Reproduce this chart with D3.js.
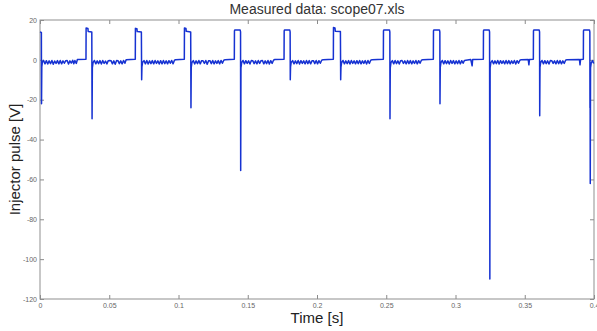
<!DOCTYPE html>
<html>
<head>
<meta charset="utf-8">
<script src="https://cdn.jsdelivr.net/npm/d3@7"></script>
<style>
  body { margin: 0; background: #fff; }
  svg { display: block; font-family: "Liberation Sans", Arial, sans-serif; }
</style>
</head>
<body>
<div id="chart"></div>
<script>
// Axis ticks
const xTicks = [0, 0.05, 0.1, 0.15, 0.2, 0.25, 0.3, 0.35, 0.4];
const yTicks = [20, 0, -20, -40, -60, -80, -100, -120];

// Scope trace as [time s, volts], one array per injector cycle
const cycle00 = [[0.0000,14.0],[0.0010,13.8],[0.0011,-22.0],[0.0013,-3.5],[0.0017,-1.2],
  [0.0026,-0.3],[0.0036,-2.0],[0.0046,-0.4],[0.0056,-2.1],[0.0066,-0.5],[0.0076,-1.9],[0.0086,-0.3],
  [0.0096,-2.2],[0.0106,-0.6],[0.0116,-1.8],[0.0126,-0.4],[0.0136,-2.0],[0.0146,-0.3],[0.0156,-2.0],
  [0.0166,-0.5],[0.0176,-1.7],[0.0186,-0.4],[0.0196,-0.3],[0.0206,-2.1],[0.0216,-0.5],[0.0226,-1.6],
  [0.0236,-0.2],[0.0244,-2.0],[0.0252,-0.3],[0.0262,-1.8],[0.0270,0.2],[0.0331,0.3]];
const cycle01 = [[0.0332,0.3],[0.0333,16.0],[0.0346,15.8],[0.0348,14.2],[0.0374,14.0],[0.0376,-29.5],[0.0378,-4.0],[0.0383,-1.4],
  [0.0393,-0.3],[0.0403,-2.0],[0.0413,-0.5],[0.0423,-1.9],[0.0433,-0.4],[0.0443,-2.1],[0.0453,-0.3],[0.0463,-1.8],
  [0.0473,-0.6],[0.0483,-2.0],[0.0493,-0.4],[0.0503,-0.3],[0.0513,-0.4],[0.0523,-2.0],[0.0533,-0.5],[0.0543,-2.2],
  [0.0553,-0.3],[0.0563,-0.4],[0.0573,-1.9],[0.0583,-0.5],[0.0593,-2.0],[0.0603,-0.3],[0.0613,-1.7],[0.0622,0.1],[0.0687,0.3]];
const cycle02 = [[0.0688,0.3],[0.0689,15.8],[0.0700,15.6],[0.0702,14.2],[0.0732,14.0],[0.0734,-10.0],[0.0736,-3.5],[0.0741,-1.2],
  [0.0751,-0.4],[0.0761,-2.0],[0.0771,-0.3],[0.0781,-2.1],[0.0791,-0.5],[0.0801,-1.9],[0.0811,-0.4],[0.0821,-2.0],
  [0.0831,-0.3],[0.0841,-1.8],[0.0851,-0.5],[0.0861,-2.1],[0.0871,-0.4],[0.0881,-2.0],[0.0891,-0.3],[0.0901,-1.9],
  [0.0911,-0.5],[0.0921,-2.0],[0.0931,-0.4],[0.0941,-1.7],[0.0951,-0.3],[0.0961,-2.0],[0.0971,-0.2],[0.0980,0.1],[0.1041,0.3]];
const cycle03 = [[0.1042,0.3],[0.1043,16.0],[0.1054,15.7],[0.1056,14.3],[0.1088,14.0],[0.1090,-24.0],[0.1092,-3.8],[0.1097,-1.3],
  [0.1107,-0.4],[0.1117,-2.1],[0.1127,-0.5],[0.1137,-1.9],[0.1147,-0.3],[0.1157,-2.0],[0.1167,-0.4],[0.1177,-0.5],
  [0.1187,-1.8],[0.1197,-0.3],[0.1207,-2.2],[0.1217,-0.5],[0.1227,-0.4],[0.1237,-1.9],[0.1247,-0.3],[0.1257,-2.0],
  [0.1267,-0.5],[0.1277,-1.8],[0.1287,-0.4],[0.1297,-2.0],[0.1307,-0.3],[0.1317,-1.7],[0.1327,-0.2],[0.1337,0.1],[0.1402,0.3]];
const cycle04 = [[0.1403,0.3],[0.1404,14.6],[0.1407,15.0],[0.1445,15.0],[0.1448,14.0],[0.1449,-55.5],[0.1451,-4.0],[0.1456,-1.4],
  [0.1466,-0.3],[0.1476,-2.0],[0.1486,-0.4],[0.1496,-1.8],[0.1506,-0.5],[0.1516,-2.1],[0.1526,-0.3],[0.1536,-0.4],
  [0.1546,-1.9],[0.1556,-0.5],[0.1566,-2.0],[0.1576,-0.3],[0.1586,-1.8],[0.1596,-0.4],[0.1606,-0.3],[0.1616,-2.0],
  [0.1626,-0.5],[0.1636,-1.9],[0.1646,-0.3],[0.1656,-2.1],[0.1666,-0.4],[0.1676,-1.8],[0.1686,-0.2],[0.1696,0.2],[0.1761,0.3]];
const cycle05 = [[0.1762,0.3],[0.1763,14.6],[0.1766,15.0],[0.1803,15.0],[0.1806,14.0],[0.1807,-10.0],[0.1809,-3.5],[0.1814,-1.2],
  [0.1824,-0.4],[0.1834,-2.0],[0.1844,-0.5],[0.1854,-1.9],[0.1864,-0.3],[0.1874,-2.1],[0.1884,-0.4],[0.1894,-1.8],
  [0.1904,-0.5],[0.1914,-2.0],[0.1924,-0.3],[0.1934,-1.9],[0.1944,-0.4],[0.1954,-2.0],[0.1964,-0.5],[0.1974,-0.4],
  [0.1984,-1.9],[0.1994,-0.3],[0.2004,-2.0],[0.2014,-0.4],[0.2024,-1.7],[0.2034,-0.2],[0.2044,0.1],[0.2117,0.3]];
const cycle06 = [[0.2118,0.3],[0.2119,16.2],[0.2130,16.0],[0.2132,14.4],[0.2169,14.2],[0.2171,-10.0],[0.2173,-3.6],[0.2178,-1.3],
  [0.2188,-0.3],[0.2198,-2.0],[0.2208,-0.5],[0.2218,-1.9],[0.2228,-0.4],[0.2238,-2.1],[0.2248,-0.3],[0.2258,-1.8],
  [0.2268,-0.5],[0.2278,-2.0],[0.2288,-0.4],[0.2298,-1.9],[0.2308,-0.3],[0.2318,-2.0],[0.2328,-0.5],[0.2338,-1.8],
  [0.2348,-0.4],[0.2358,-2.1],[0.2368,-0.3],[0.2378,-1.8],[0.2388,-0.2],[0.2398,0.1],[0.2478,0.3]];
const cycle07 = [[0.2479,0.3],[0.2480,14.6],[0.2483,15.0],[0.2523,15.0],[0.2526,14.0],[0.2527,-29.5],[0.2529,-4.0],[0.2534,-1.4],
  [0.2544,-0.4],[0.2554,-2.0],[0.2564,-0.3],[0.2574,-1.9],[0.2584,-0.5],[0.2594,-2.1],[0.2604,-0.4],[0.2614,-0.3],
  [0.2624,-1.8],[0.2634,-0.5],[0.2644,-2.0],[0.2654,-0.3],[0.2664,-1.9],[0.2674,-0.4],[0.2684,-2.0],[0.2694,-0.5],
  [0.2704,-1.8],[0.2714,-0.3],[0.2724,-2.0],[0.2734,-0.4],[0.2744,-1.7],[0.2754,-0.2],[0.2764,0.1],[0.2839,0.3]];
const cycle08 = [[0.2840,0.3],[0.2841,14.6],[0.2844,15.0],[0.2884,15.0],[0.2887,14.0],[0.2888,-22.0],[0.2890,-3.8],[0.2895,-1.3],
  [0.2905,-0.3],[0.2915,-2.0],[0.2925,-0.4],[0.2935,-1.9],[0.2945,-0.5],[0.2955,-2.1],[0.2965,-0.3],[0.2975,-1.8],
  [0.2985,-0.4],[0.2995,-2.0],[0.3005,-0.5],[0.3015,-1.9],[0.3025,-0.3],[0.3035,-2.0],[0.3045,-0.4],[0.3055,-1.7],
  [0.3065,-0.3],[0.3075,-0.2],[0.3110,0.2],[0.3120,-3.0],[0.3124,0.2],[0.3200,0.3]];
const cycle09 = [[0.3201,0.3],[0.3202,14.6],[0.3205,15.0],[0.3243,15.0],[0.3246,14.0],[0.3247,-45.0],[0.3248,-110.0],[0.3249,-58.0],
  [0.3250,-4.0],[0.3255,-1.4],
  [0.3265,-0.4],[0.3275,-2.0],[0.3285,-0.5],[0.3295,-1.9],[0.3305,-0.3],[0.3315,-2.1],[0.3325,-0.4],[0.3335,-1.8],
  [0.3345,-0.5],[0.3355,-2.0],[0.3365,-0.3],[0.3375,-1.9],[0.3385,-0.4],[0.3395,-2.0],[0.3405,-0.5],[0.3415,-1.8],
  [0.3425,-0.3],[0.3435,-2.1],[0.3445,-0.4],[0.3455,-1.7],[0.3465,-0.2],[0.3475,0.1],[0.3525,0.2],[0.3530,-2.5],[0.3534,0.2],[0.3561,0.3]];
const cycle10 = [[0.3562,0.3],[0.3563,14.6],[0.3566,15.0],[0.3604,15.0],[0.3607,14.0],[0.3608,-28.0],[0.3610,-3.8],[0.3615,-1.3],
  [0.3625,-0.3],[0.3635,-2.0],[0.3645,-0.4],[0.3655,-1.9],[0.3665,-0.5],[0.3675,-2.1],[0.3685,-0.3],[0.3695,-0.4],
  [0.3705,-1.8],[0.3715,-0.5],[0.3725,-2.0],[0.3735,-0.3],[0.3745,-1.9],[0.3755,-0.4],[0.3765,-2.0],[0.3775,-0.5],
  [0.3785,-1.8],[0.3795,-0.2],[0.3805,0.1],[0.3895,0.2],[0.3899,-2.5],[0.3903,0.2],[0.3922,0.3]];
const cycle11 = [[0.3923,0.3],[0.3924,14.6],[0.3927,15.0],[0.3967,15.0],[0.3970,14.0],[0.3971,-24.0],[0.3972,-20.0],[0.3973,-62.0],
  [0.3975,-4.0],[0.3980,-1.5],[0.3990,-0.4],[0.3998,-1.8]];

const trace = [].concat(cycle00, cycle01, cycle02, cycle03, cycle04, cycle05,
                        cycle06, cycle07, cycle08, cycle09, cycle10, cycle11);

function drawScope() {
    const width = 597;
    const height = 331;
    const margin = { top: 20, right: 3, bottom: 32, left: 40 };
    const plotW = width - margin.left - margin.right;
    const plotH = height - margin.top - margin.bottom;

    const svg = d3.select('#chart')
        .append('svg')
        .attr('width', width)
        .attr('height', height);

    const g = svg.append('g')
        .attr('transform', `translate(${margin.left}, ${margin.top})`);

    const xScale = d3.scaleLinear().domain([0, 0.4]).range([0, plotW]);
    const yScale = d3.scaleLinear().domain([-120, 20]).range([plotH, 0]);

    // Axes: MATLAB style, ticks pointing into the box on all four sides
    const styleAxis = sel => {
        sel.select('.domain').remove();
        sel.selectAll('line').attr('stroke', '#8a8a8a');
        sel.selectAll('text').attr('fill', '#666').style('font-size', '7px');
    };

    g.append('g')
        .attr('transform', `translate(0, ${plotH})`)
        .call(d3.axisBottom(xScale).tickValues(xTicks).tickSize(-4).tickPadding(4)
            .tickFormat(d => String(d)))
        .call(styleAxis);
    g.append('g')
        .call(d3.axisTop(xScale).tickValues(xTicks).tickSize(-4).tickFormat(''))
        .call(styleAxis);
    g.append('g')
        .call(d3.axisLeft(yScale).tickValues(yTicks).tickSize(-4).tickPadding(3)
            .tickFormat(d => String(d)))
        .call(styleAxis);
    g.append('g')
        .attr('transform', `translate(${plotW}, 0)`)
        .call(d3.axisRight(yScale).tickValues(yTicks).tickSize(-4).tickFormat(''))
        .call(styleAxis);

    // Box
    g.append('rect')
        .attr('x', 0).attr('y', 0)
        .attr('width', plotW).attr('height', plotH)
        .attr('fill', 'none')
        .attr('stroke', '#8f8f8f')
        .attr('stroke-width', 1);

    // Trace
    const line = d3.line()
        .x(d => xScale(d[0]))
        .y(d => yScale(d[1]));

    g.append('path')
        .datum(trace)
        .attr('fill', 'none')
        .attr('stroke', '#1632d2')
        .attr('stroke-width', 1.5)
        .attr('stroke-linejoin', 'round')
        .attr('d', line);

    // Title and axis labels
    svg.append('text')
        .attr('x', margin.left + plotW / 2)
        .attr('y', 14)
        .attr('text-anchor', 'middle')
        .attr('fill', '#333')
        .style('font-size', '14px')
        .text('Measured data: scope07.xls');

    svg.append('text')
        .attr('x', margin.left + plotW / 2)
        .attr('y', 323)
        .attr('text-anchor', 'middle')
        .attr('fill', '#222')
        .style('font-size', '15px')
        .text('Time [s]');

    svg.append('text')
        .attr('transform', `translate(20, ${margin.top + plotH / 2}) rotate(-90)`)
        .attr('text-anchor', 'middle')
        .attr('fill', '#222')
        .style('font-size', '15px')
        .text('Injector pulse [V]');
}

document.addEventListener('DOMContentLoaded', drawScope);
</script>
</body>
</html>
